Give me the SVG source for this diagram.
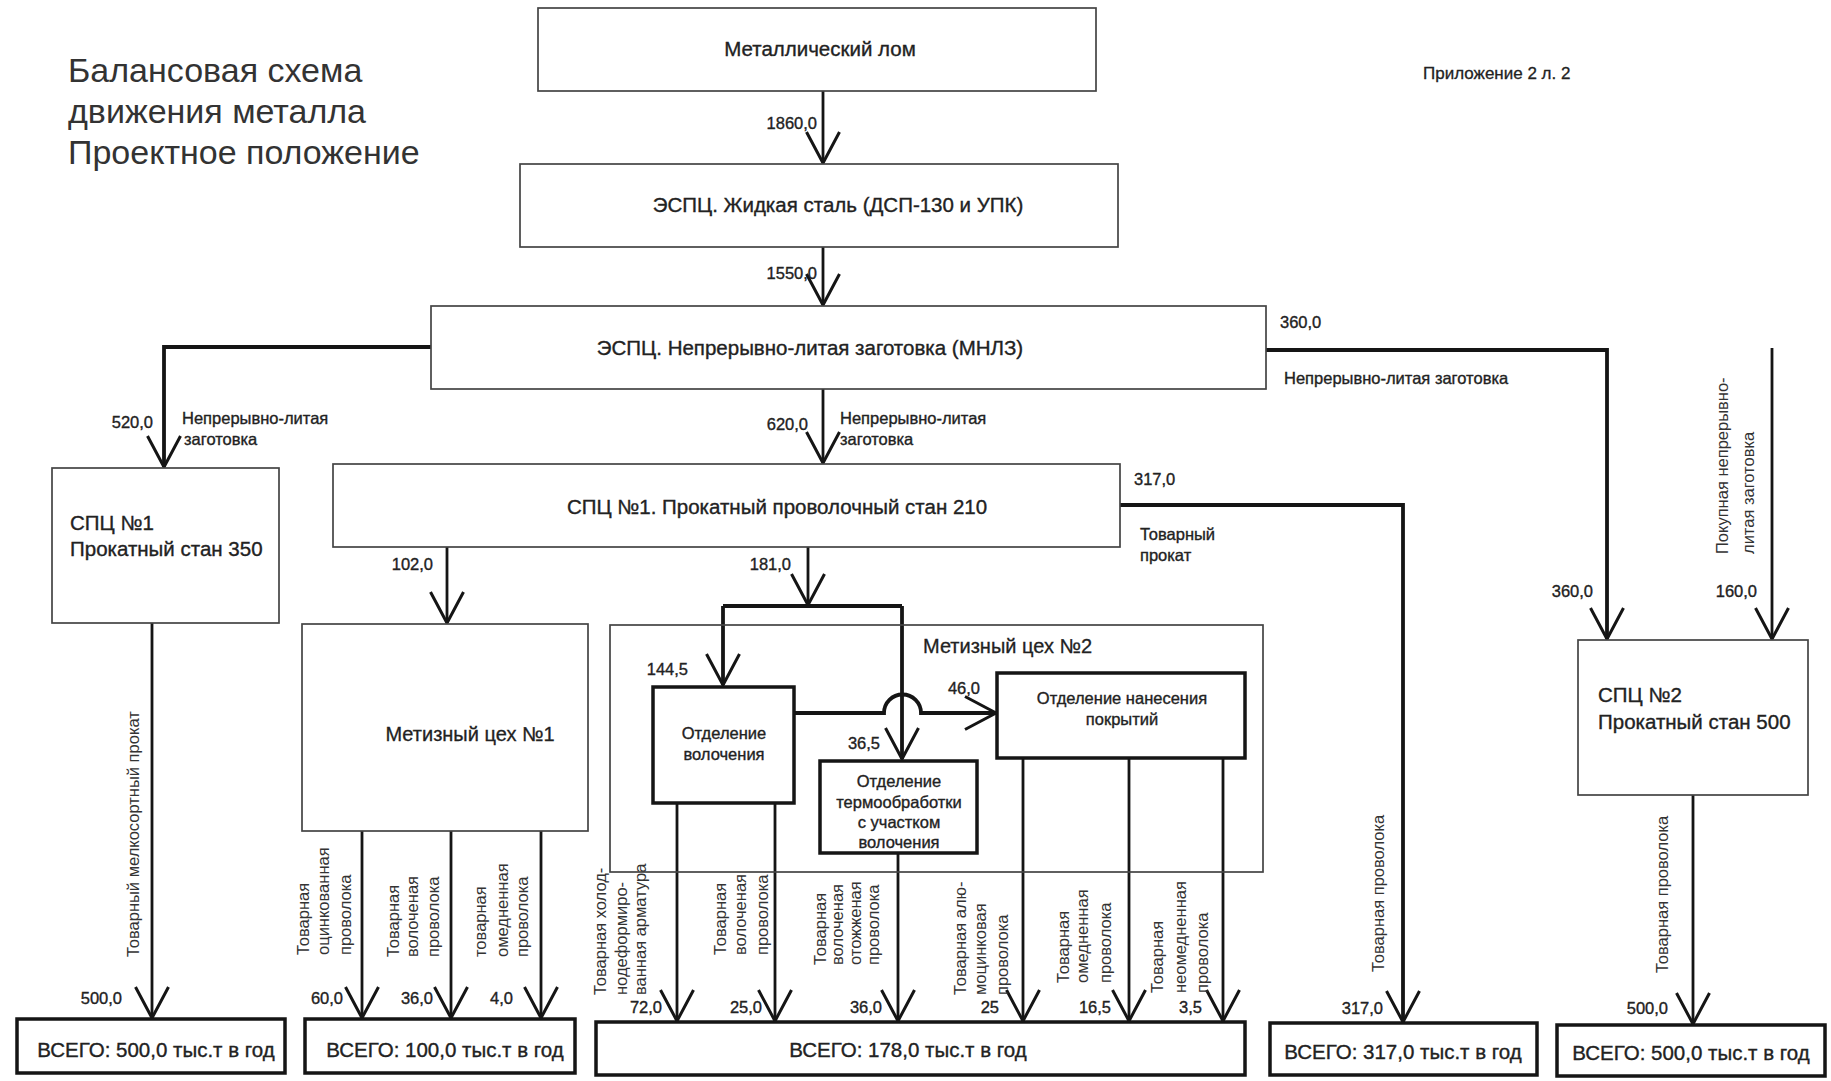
<svg xmlns="http://www.w3.org/2000/svg" width="1831" height="1081" viewBox="0 0 1831 1081">
<defs>
<style>
text{font-family:"Liberation Sans",Arial,sans-serif;fill:#222}
.title{font-size:34px;fill:#333}
.big{font-size:20.5px;stroke:#222;stroke-width:0.35}
.mid{font-size:20px;stroke:#222;stroke-width:0.3}
.lbl{font-size:17px;stroke:#222;stroke-width:0.3}
.num{font-size:16.5px;text-anchor:end;stroke:#222;stroke-width:0.35}
.sm{font-size:16.5px;stroke:#222;stroke-width:0.35}
.rot{font-size:16.5px;fill:#333}
.c{text-anchor:middle}
.thin{fill:#fff;stroke:#444;stroke-width:1.7}
.thick{fill:#fff;stroke:#151515;stroke-width:3.5}
.ln{fill:none;stroke:#151515;stroke-width:2.8}
.lnb{fill:none;stroke:#151515;stroke-width:3.8}
</style>
<marker id="ah" viewBox="-34 -20 38 40" refX="0" refY="0" markerWidth="38" markerHeight="40" markerUnits="userSpaceOnUse" orient="auto">
<path d="M-31,-16.5 L0,0 L-31,16.5" fill="none" stroke="#151515" stroke-width="3"/>
</marker>
</defs>
<rect width="1831" height="1081" fill="#fff"/>

<g id="title">
<text class="title" x="68" y="82">Балансовая схема</text>
<text class="title" x="68" y="123">движения металла</text>
<text class="title" x="68" y="164">Проектное положение</text>
<text class="lbl" x="1423" y="79">Приложение 2 л. 2</text>
</g>

<g id="connectors">
<path class="ln" d="M823,91 V163" marker-end="url(#ah)"/>
<path class="ln" d="M823,247 V305" marker-end="url(#ah)"/>
<path class="lnb" d="M431,347 H164 V467" marker-end="url(#ah)"/>
<path class="ln" d="M823,389 V463" marker-end="url(#ah)"/>
<path class="lnb" d="M1266,350 H1607 V639" marker-end="url(#ah)"/>
<path class="ln" d="M1772,348 V639" marker-end="url(#ah)"/>
<path class="lnb" d="M1120,505 H1403 V1022" marker-end="url(#ah)"/>
<path class="ln" d="M152,623 V1018" marker-end="url(#ah)"/>
<path class="ln" d="M447,547 V623" marker-end="url(#ah)"/>
<path class="ln" d="M362,831 V1018" marker-end="url(#ah)"/>
<path class="ln" d="M451,831 V1018" marker-end="url(#ah)"/>
<path class="ln" d="M541,831 V1018" marker-end="url(#ah)"/>
<path class="ln" d="M808,547 V605" marker-end="url(#ah)"/>
<path class="lnb" d="M723,606 H902"/>
<path class="lnb" d="M723,606 V685" marker-end="url(#ah)"/>
<path class="lnb" d="M902,606 V759" marker-end="url(#ah)"/>
<path class="lnb" d="M794,713 H884 A18.5,18.5 0 0 1 921,713 H996" marker-end="url(#ah)"/>
<path class="ln" d="M677,803 V1021" marker-end="url(#ah)"/>
<path class="ln" d="M775,803 V1021" marker-end="url(#ah)"/>
<path class="ln" d="M898,853 V1021" marker-end="url(#ah)"/>
<path class="ln" d="M1023,758 V1021" marker-end="url(#ah)"/>
<path class="ln" d="M1129,758 V1021" marker-end="url(#ah)"/>
<path class="ln" d="M1223,758 V1021" marker-end="url(#ah)"/>
<path class="ln" d="M1693,795 V1024" marker-end="url(#ah)"/>
</g>

<g id="flow-labels">
<text class="num" x="817" y="129">1860,0</text>
<text class="num" x="817" y="279">1550,0</text>
<text class="num" x="153" y="428">520,0</text>
<text class="sm" x="182" y="424">Непрерывно-литая</text>
<text class="sm" x="184" y="445">заготовка</text>
<text class="num" x="808" y="430">620,0</text>
<text class="sm" x="840" y="424">Непрерывно-литая</text>
<text class="sm" x="840" y="445">заготовка</text>
<text class="sm" x="1280" y="328">360,0</text>
<text class="sm" x="1284" y="384">Непрерывно-литая заготовка</text>
<text class="sm" x="1134" y="485">317,0</text>
<text class="sm" x="1140" y="540">Товарный</text>
<text class="sm" x="1140" y="561">прокат</text>
<text class="rot" transform="translate(1728,554) rotate(-90)">Покупная непрерывно-</text>
<text class="rot" transform="translate(1754,554) rotate(-90)">литая заготовка</text>
<text class="num" x="1593" y="597">360,0</text>
<text class="num" x="1757" y="597">160,0</text>
<text class="num" x="433" y="570">102,0</text>
<text class="num" x="791" y="570">181,0</text>
<text class="num" x="688" y="675">144,5</text>
<text class="num" x="980" y="694">46,0</text>
<text class="num" x="880" y="749">36,5</text>

<text class="rot" transform="translate(139,957) rotate(-90)">Товарный мелкосортный прокат</text>
<text class="num" x="122" y="1004">500,0</text>

<text class="rot" transform="translate(309,955) rotate(-90)">Товарная</text>
<text class="rot" transform="translate(329,955) rotate(-90)">оцинкованная</text>
<text class="rot" transform="translate(351,955) rotate(-90)">проволока</text>
<text class="rot" transform="translate(399,957) rotate(-90)">Товарная</text>
<text class="rot" transform="translate(418,957) rotate(-90)">волоченая</text>
<text class="rot" transform="translate(439,957) rotate(-90)">проволока</text>
<text class="rot" transform="translate(486,957) rotate(-90)">товарная</text>
<text class="rot" transform="translate(508,957) rotate(-90)">омедненная</text>
<text class="rot" transform="translate(528,957) rotate(-90)">проволока</text>
<text class="num" x="343" y="1004">60,0</text>
<text class="num" x="433" y="1004">36,0</text>
<text class="num" x="513" y="1004">4,0</text>

<text class="rot" transform="translate(606,995) rotate(-90)">Товарная холод-</text>
<text class="rot" transform="translate(627,995) rotate(-90)">нодеформиро-</text>
<text class="rot" transform="translate(646,995) rotate(-90)">ванная арматура</text>
<text class="rot" transform="translate(726,955) rotate(-90)">Товарная</text>
<text class="rot" transform="translate(746,955) rotate(-90)">волоченая</text>
<text class="rot" transform="translate(768,955) rotate(-90)">проволока</text>
<text class="rot" transform="translate(826,965) rotate(-90)">Товарная</text>
<text class="rot" transform="translate(843,965) rotate(-90)">волоченая</text>
<text class="rot" transform="translate(861,965) rotate(-90)">отожженая</text>
<text class="rot" transform="translate(879,965) rotate(-90)">проволока</text>
<text class="rot" transform="translate(966,995) rotate(-90)">Товарная алю-</text>
<text class="rot" transform="translate(986,995) rotate(-90)">моцинковая</text>
<text class="rot" transform="translate(1008,995) rotate(-90)">проволока</text>
<text class="rot" transform="translate(1069,983) rotate(-90)">Товарная</text>
<text class="rot" transform="translate(1088,983) rotate(-90)">омедненная</text>
<text class="rot" transform="translate(1111,983) rotate(-90)">проволока</text>
<text class="rot" transform="translate(1163,993) rotate(-90)">Товарная</text>
<text class="rot" transform="translate(1186,993) rotate(-90)">неомедненная</text>
<text class="rot" transform="translate(1208,993) rotate(-90)">проволока</text>
<text class="num" x="662" y="1013">72,0</text>
<text class="num" x="762" y="1013">25,0</text>
<text class="num" x="882" y="1013">36,0</text>
<text class="num" x="999" y="1013">25</text>
<text class="num" x="1111" y="1013">16,5</text>
<text class="num" x="1202" y="1013">3,5</text>

<text class="rot" transform="translate(1384,972) rotate(-90)">Товарная проволока</text>
<text class="num" x="1383" y="1014">317,0</text>
<text class="rot" transform="translate(1668,973) rotate(-90)">Товарная проволока</text>
<text class="num" x="1668" y="1014">500,0</text>
</g>

<g id="node-scrap">
<rect class="thin" x="538" y="8" width="558" height="83"/>
<text class="big c" x="820" y="56">Металлический лом</text>
</g>
<g id="node-liquid-steel">
<rect class="thin" x="520" y="164" width="598" height="83"/>
<text class="big c" x="838" y="212">ЭСПЦ. Жидкая сталь (ДСП-130 и УПК)</text>
</g>
<g id="node-ccm">
<rect class="thin" x="431" y="306" width="835" height="83"/>
<text class="big c" x="810" y="355">ЭСПЦ. Непрерывно-литая заготовка (МНЛЗ)</text>
</g>
<g id="node-spc1-350">
<rect class="thin" x="52" y="468" width="227" height="155"/>
<text class="big" x="70" y="530">СПЦ №1</text>
<text class="big" x="70" y="556">Прокатный стан 350</text>
</g>
<g id="node-spc1-210">
<rect class="thin" x="333" y="464" width="787" height="83"/>
<text class="big c" x="777" y="514">СПЦ №1. Прокатный проволочный стан 210</text>
</g>
<g id="node-metiz1">
<rect class="thin" x="302" y="624" width="286" height="207"/>
<text class="mid c" x="470" y="741">Метизный цех №1</text>
</g>
<g id="node-metiz2">
<rect class="thin" x="610" y="625" width="653" height="247" style="fill:none"/>
<text class="mid" x="923" y="653">Метизный цех №2</text>
</g>
<g id="node-drawing">
<rect class="thick" x="653" y="687" width="141" height="116"/>
<text class="sm c" x="724" y="739">Отделение</text>
<text class="sm c" x="724" y="760">волочения</text>
</g>
<g id="node-heat">
<rect class="thick" x="820" y="761" width="157" height="92"/>
<text class="sm c" x="899" y="787">Отделение</text>
<text class="sm c" x="899" y="808">термообработки</text>
<text class="sm c" x="899" y="828">с участком</text>
<text class="sm c" x="899" y="848">волочения</text>
</g>
<g id="node-coating">
<rect class="thick" x="997" y="673" width="248" height="85"/>
<text class="sm c" x="1122" y="704">Отделение нанесения</text>
<text class="sm c" x="1122" y="725">покрытий</text>
</g>
<g id="node-spc2">
<rect class="thin" x="1578" y="640" width="230" height="155"/>
<text class="big" x="1598" y="702">СПЦ №2</text>
<text class="big" x="1598" y="729">Прокатный стан 500</text>
</g>
<g id="total-1">
<rect class="thick" x="17" y="1019" width="268" height="54"/>
<text class="big c" x="156" y="1057">ВСЕГО: 500,0 тыс.т в год</text>
</g>
<g id="total-2">
<rect class="thick" x="305" y="1019" width="270" height="54"/>
<text class="big c" x="445" y="1057">ВСЕГО: 100,0 тыс.т в год</text>
</g>
<g id="total-3">
<rect class="thick" x="596" y="1022" width="649" height="53"/>
<text class="big c" x="908" y="1057">ВСЕГО: 178,0  тыс.т в год</text>
</g>
<g id="total-4">
<rect class="thick" x="1270" y="1023" width="267" height="52"/>
<text class="big c" x="1403" y="1059">ВСЕГО: 317,0 тыс.т в год</text>
</g>
<g id="total-5">
<rect class="thick" x="1557" y="1025" width="268" height="51"/>
<text class="big c" x="1691" y="1060">ВСЕГО: 500,0 тыс.т в год</text>
</g>
</svg>
